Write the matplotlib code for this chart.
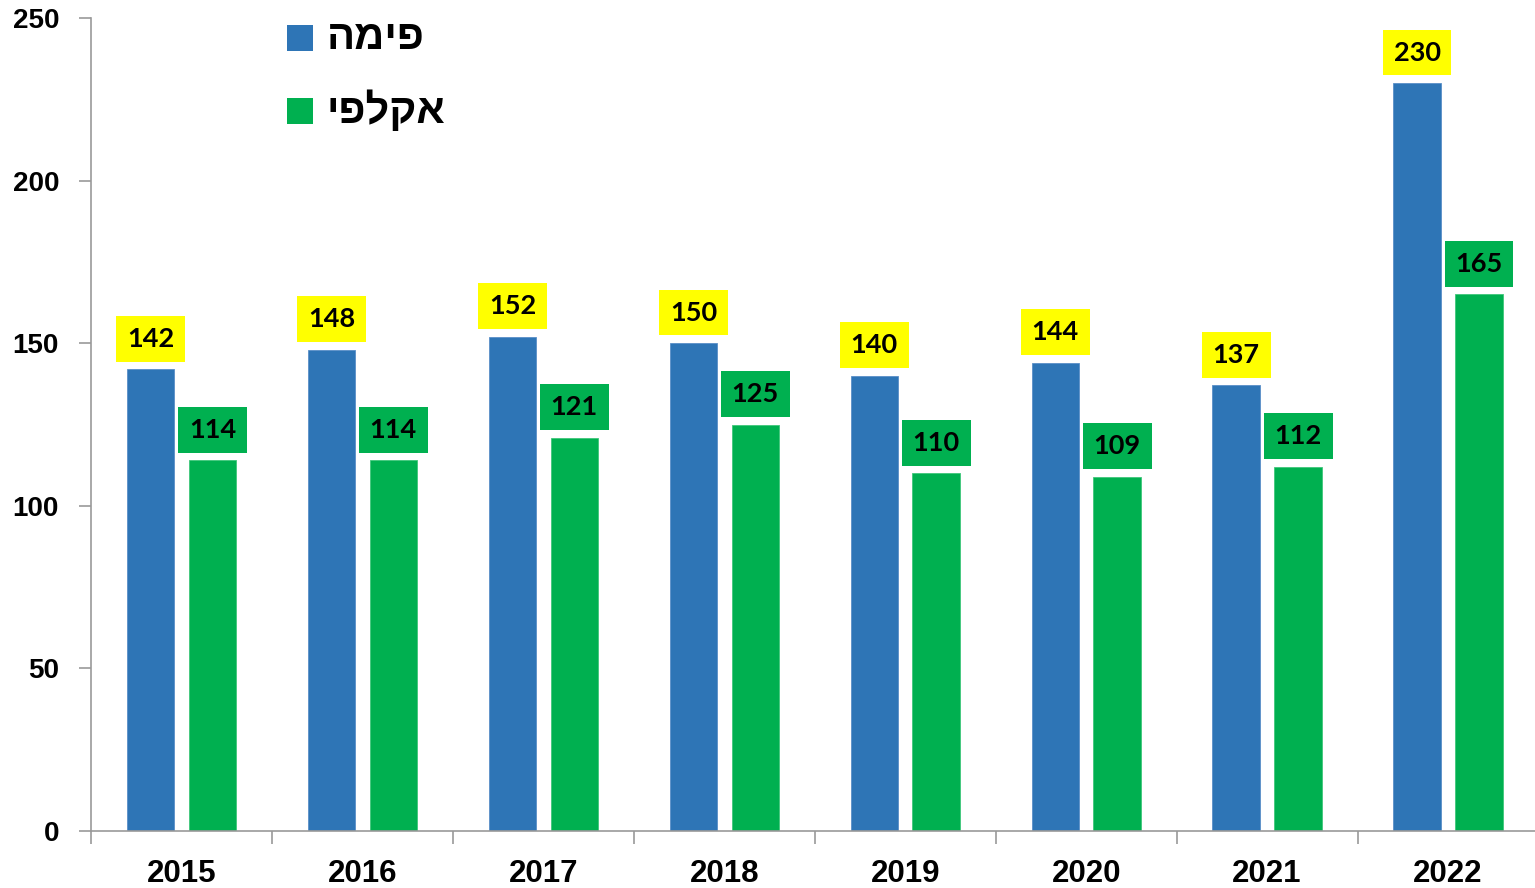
import numpy as np
import matplotlib
matplotlib.use("Agg")
import matplotlib.pyplot as plt
from matplotlib.patches import Rectangle

years = ["2015", "2016", "2017", "2018", "2019", "2020", "2021", "2022"]
fima = [142, 148, 152, 150, 140, 144, 137, 230]
akalpi = [114, 114, 121, 125, 110, 109, 112, 165]
series_names = ["פימה", "אקלפי"]

blue = "#2E75B6"
green = "#00B050"
yellow = "#FFFF00"

fig = plt.figure(figsize=(15.35, 8.88), dpi=100)
ax = fig.add_axes([0.0593, 0.0642, 0.943, 0.9155])

x = np.arange(len(years))
w = 0.262
off = 0.171
ax.bar(x - off, fima, w, color=blue, edgecolor="#5a8fc8", linewidth=0.6)
ax.bar(x + off, akalpi, w, color=green, edgecolor="#3fc77a", linewidth=0.6)

# value labels in coloured boxes
for xi, v in zip(x, fima):
    ax.annotate(str(v), (xi - off, v), xytext=(0, 22), textcoords="offset points",
                ha="center", va="center", fontsize=19.5, fontweight="bold", family="Lato",
                bbox=dict(boxstyle="square,pad=0.4", fc=yellow, ec="none"))
for xi, v in zip(x, akalpi):
    ax.annotate(str(v), (xi + off, v), xytext=(0, 22), textcoords="offset points",
                ha="center", va="center", fontsize=19.5, fontweight="bold", family="Lato",
                bbox=dict(boxstyle="square,pad=0.4", fc=green, ec="none"))

ax.set_xlim(-0.5, len(years) - 0.5)
ax.set_ylim(0, 250)
ax.set_yticks([0, 50, 100, 150, 200, 250])
ax.set_xticks(x)
ax.set_xticklabels(years)
ax.set_xticks(np.arange(len(years) + 1) - 0.5, minor=True)
ax.tick_params(axis="x", which="major", length=0, pad=20)
ax.tick_params(axis="x", which="minor", length=9, color="#999999", width=1.2)
ax.tick_params(axis="y", length=9, color="#999999", width=1.2, pad=14)
for lab in ax.get_xticklabels():
    lab.set_fontsize(22.5)
    lab.set_fontweight("bold")
    lab.set_family("Liberation Sans")
for lab in ax.get_yticklabels():
    lab.set_fontsize(20)
    lab.set_fontweight("bold")
    lab.set_family("Liberation Sans")

for s in ["top", "right"]:
    ax.spines[s].set_visible(False)
for s in ["left", "bottom"]:
    ax.spines[s].set_color("#999999")
    ax.spines[s].set_linewidth(1.2)

# legend (matplotlib has no bidi, so reverse the Hebrew for display)
for name, col, yy in [(series_names[0], blue, 0.957), (series_names[1], green, 0.875)]:
    fig.patches.append(Rectangle((287 / 1535, yy - 13 / 888), 26 / 1535, 26 / 888,
                                 transform=fig.transFigure, fc=col, ec="none"))
    fig.text(327 / 1535, yy, name[::-1], ha="left", va="center", fontsize=30, fontweight="bold",
             family=["Liberation Sans", "DejaVu Sans"])

fig.savefig("out.png", dpi=100)
